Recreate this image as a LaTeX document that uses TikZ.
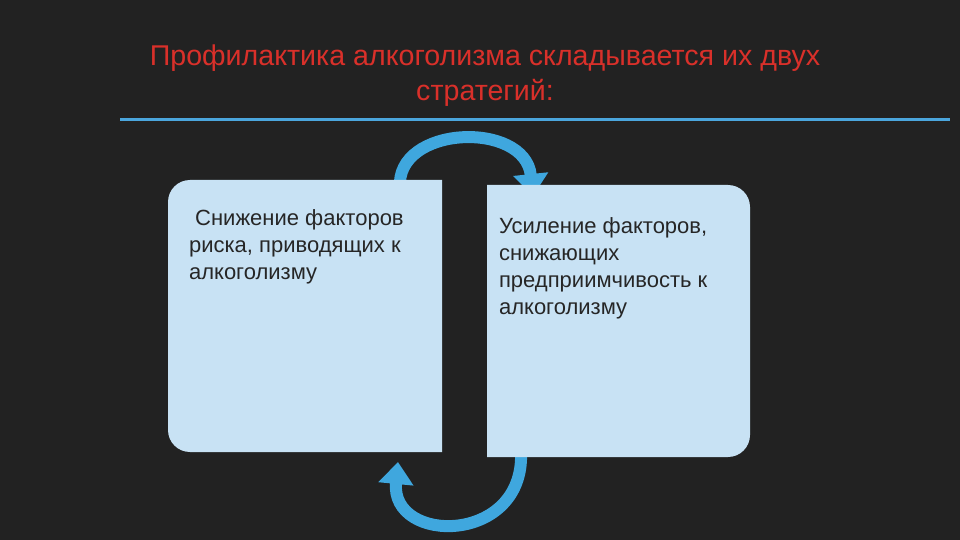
\documentclass[tikz,border=0pt]{standalone}
\usepackage{fontspec}
\setmainfont{Liberation Sans}
\usetikzlibrary{arrows.meta}
\definecolor{bg}{HTML}{222222}
\definecolor{ttl}{HTML}{D9302A}
\definecolor{boxc}{HTML}{C8E2F4}
\definecolor{arr}{HTML}{3FA7DE}
\definecolor{linec}{HTML}{4BA6DD}
\tikzset{
  boxtext/.style={font=\fontsize{11}{13.6}\selectfont, text=black!85, align=left, anchor=north west},
  cyc/.style={line width=6pt, arr, -{Triangle[length=11pt,width=17pt]}},
}
\begin{document}
\begin{tikzpicture}[x=0.5pt,y=-0.5pt]
\useasboundingbox (0,0) rectangle (960,540);
\fill[bg] (0,0) rectangle (960,540);
\node[text=ttl, font=\fontsize{14.3}{17.5}\selectfont, align=center] (title) at (485,76)
  {Профилактика алкоголизма складывается их двух\\стратегий:};
\draw[linec, line width=1.5pt] (120,120) -- (950,120);
\coordinate (a1) at (400,188);
\coordinate (a2) at (533,196);
\coordinate (b1) at (521,452);
\coordinate (b2) at (398,462);
\draw[cyc] (a1) .. controls (395,125) and (525,120) .. (a2);
\draw[cyc] (b1) .. controls (525,545) and (390,545) .. (b2);
\fill[boxc] (442,180) [rounded corners=11pt] -- (168,180) -- (168,452) [sharp corners] -- (442,452) -- cycle;
\fill[boxc] (487,185) [rounded corners=11pt] -- (750,185) -- (750,457) [sharp corners] -- (487,457) -- cycle;
\node[boxtext] (t1) at (182,202) {\ Снижение факторов\\риска, приводящих к\\алкоголизму};
\node[boxtext] (t2) at (492,210) {Усиление факторов,\\снижающих\\предприимчивость к\\алкоголизму};
\end{tikzpicture}
\end{document}
